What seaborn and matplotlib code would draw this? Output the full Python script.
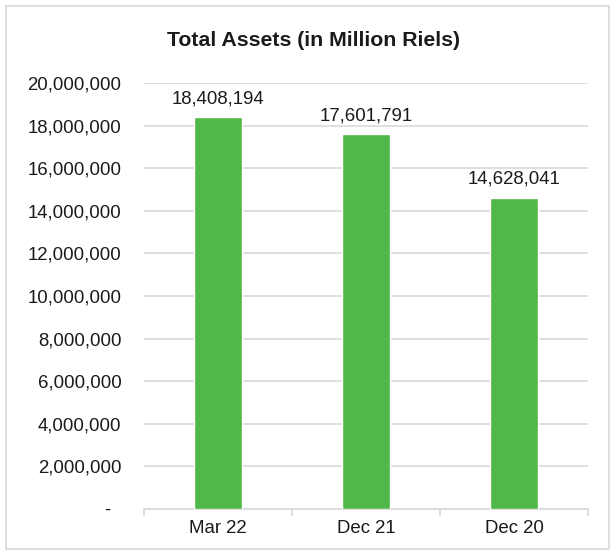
import matplotlib
matplotlib.use("Agg")
import matplotlib.pyplot as plt
import matplotlib.ticker as mticker
from matplotlib.patches import Rectangle
import seaborn as sns

# Chart data
periods = ["Mar 22", "Dec 21", "Dec 20"]
total_assets = [18408194, 17601791, 14628041]
y_ticks = list(range(0, 20000001, 2000000))

sns.set_style("white")
plt.rcParams['font.family'] = ['Liberation Sans', 'DejaVu Sans']

fig = plt.figure(figsize=(6.12, 5.53), dpi=100)
ax = fig.add_axes([0.235, 0.0796, 0.726, 0.770])

sns.barplot(x=periods, y=total_assets, color="#50B848", width=0.32,
            saturation=1, ax=ax, zorder=3)

# value labels on top of bars
for p, v in zip(ax.patches, total_assets):
    ax.annotate(f"{v:,}", (p.get_x() + p.get_width() / 2, p.get_height()),
                xytext=(0, 7), textcoords="offset points",
                ha="center", va="bottom", fontsize=13.4, color="#1a1a1a")

ax.set_ylim(0, 20000000)
ax.set_xlim(-0.5, 2.5)
ax.set_yticks(y_ticks)
ax.yaxis.set_major_formatter(mticker.FuncFormatter(
    lambda v, _: "-  " if v == 0 else f"{int(v):,}"))
ax.yaxis.grid(True, color="#D9D9D9", linewidth=1.2, zorder=0)
ax.set_axisbelow(True)

# tick marks between categories
ax.set_xticks([-0.5, 0.5, 1.5, 2.5], minor=True)
ax.tick_params(axis="x", which="minor", length=5, width=1.2, color="#D9D9D9",
               direction="out", bottom=True)
ax.tick_params(axis="x", which="major", length=0, pad=8, labelsize=13.4,
               labelcolor="#1a1a1a")
ax.tick_params(axis="y", length=0, pad=16, labelsize=13.4, labelcolor="#1a1a1a")

for side in ["top", "right", "left"]:
    ax.spines[side].set_visible(False)
ax.spines["bottom"].set_color("#D9D9D9")
ax.spines["bottom"].set_linewidth(1.2)
ax.set_xlabel("")
ax.set_ylabel("")

fig.text(0.512, 0.927, "Total Assets (in Million Riels)", ha="center",
         va="center", fontsize=15.3, fontweight="bold", color="#1a1a1a")

# chart border
fig.patches.append(Rectangle((6 / 612, 4 / 553), 603 / 612, 543 / 553,
                             transform=fig.transFigure, fill=False,
                             edgecolor="#D9D9D9", linewidth=1.2))

fig.savefig("out.png", dpi=100)
